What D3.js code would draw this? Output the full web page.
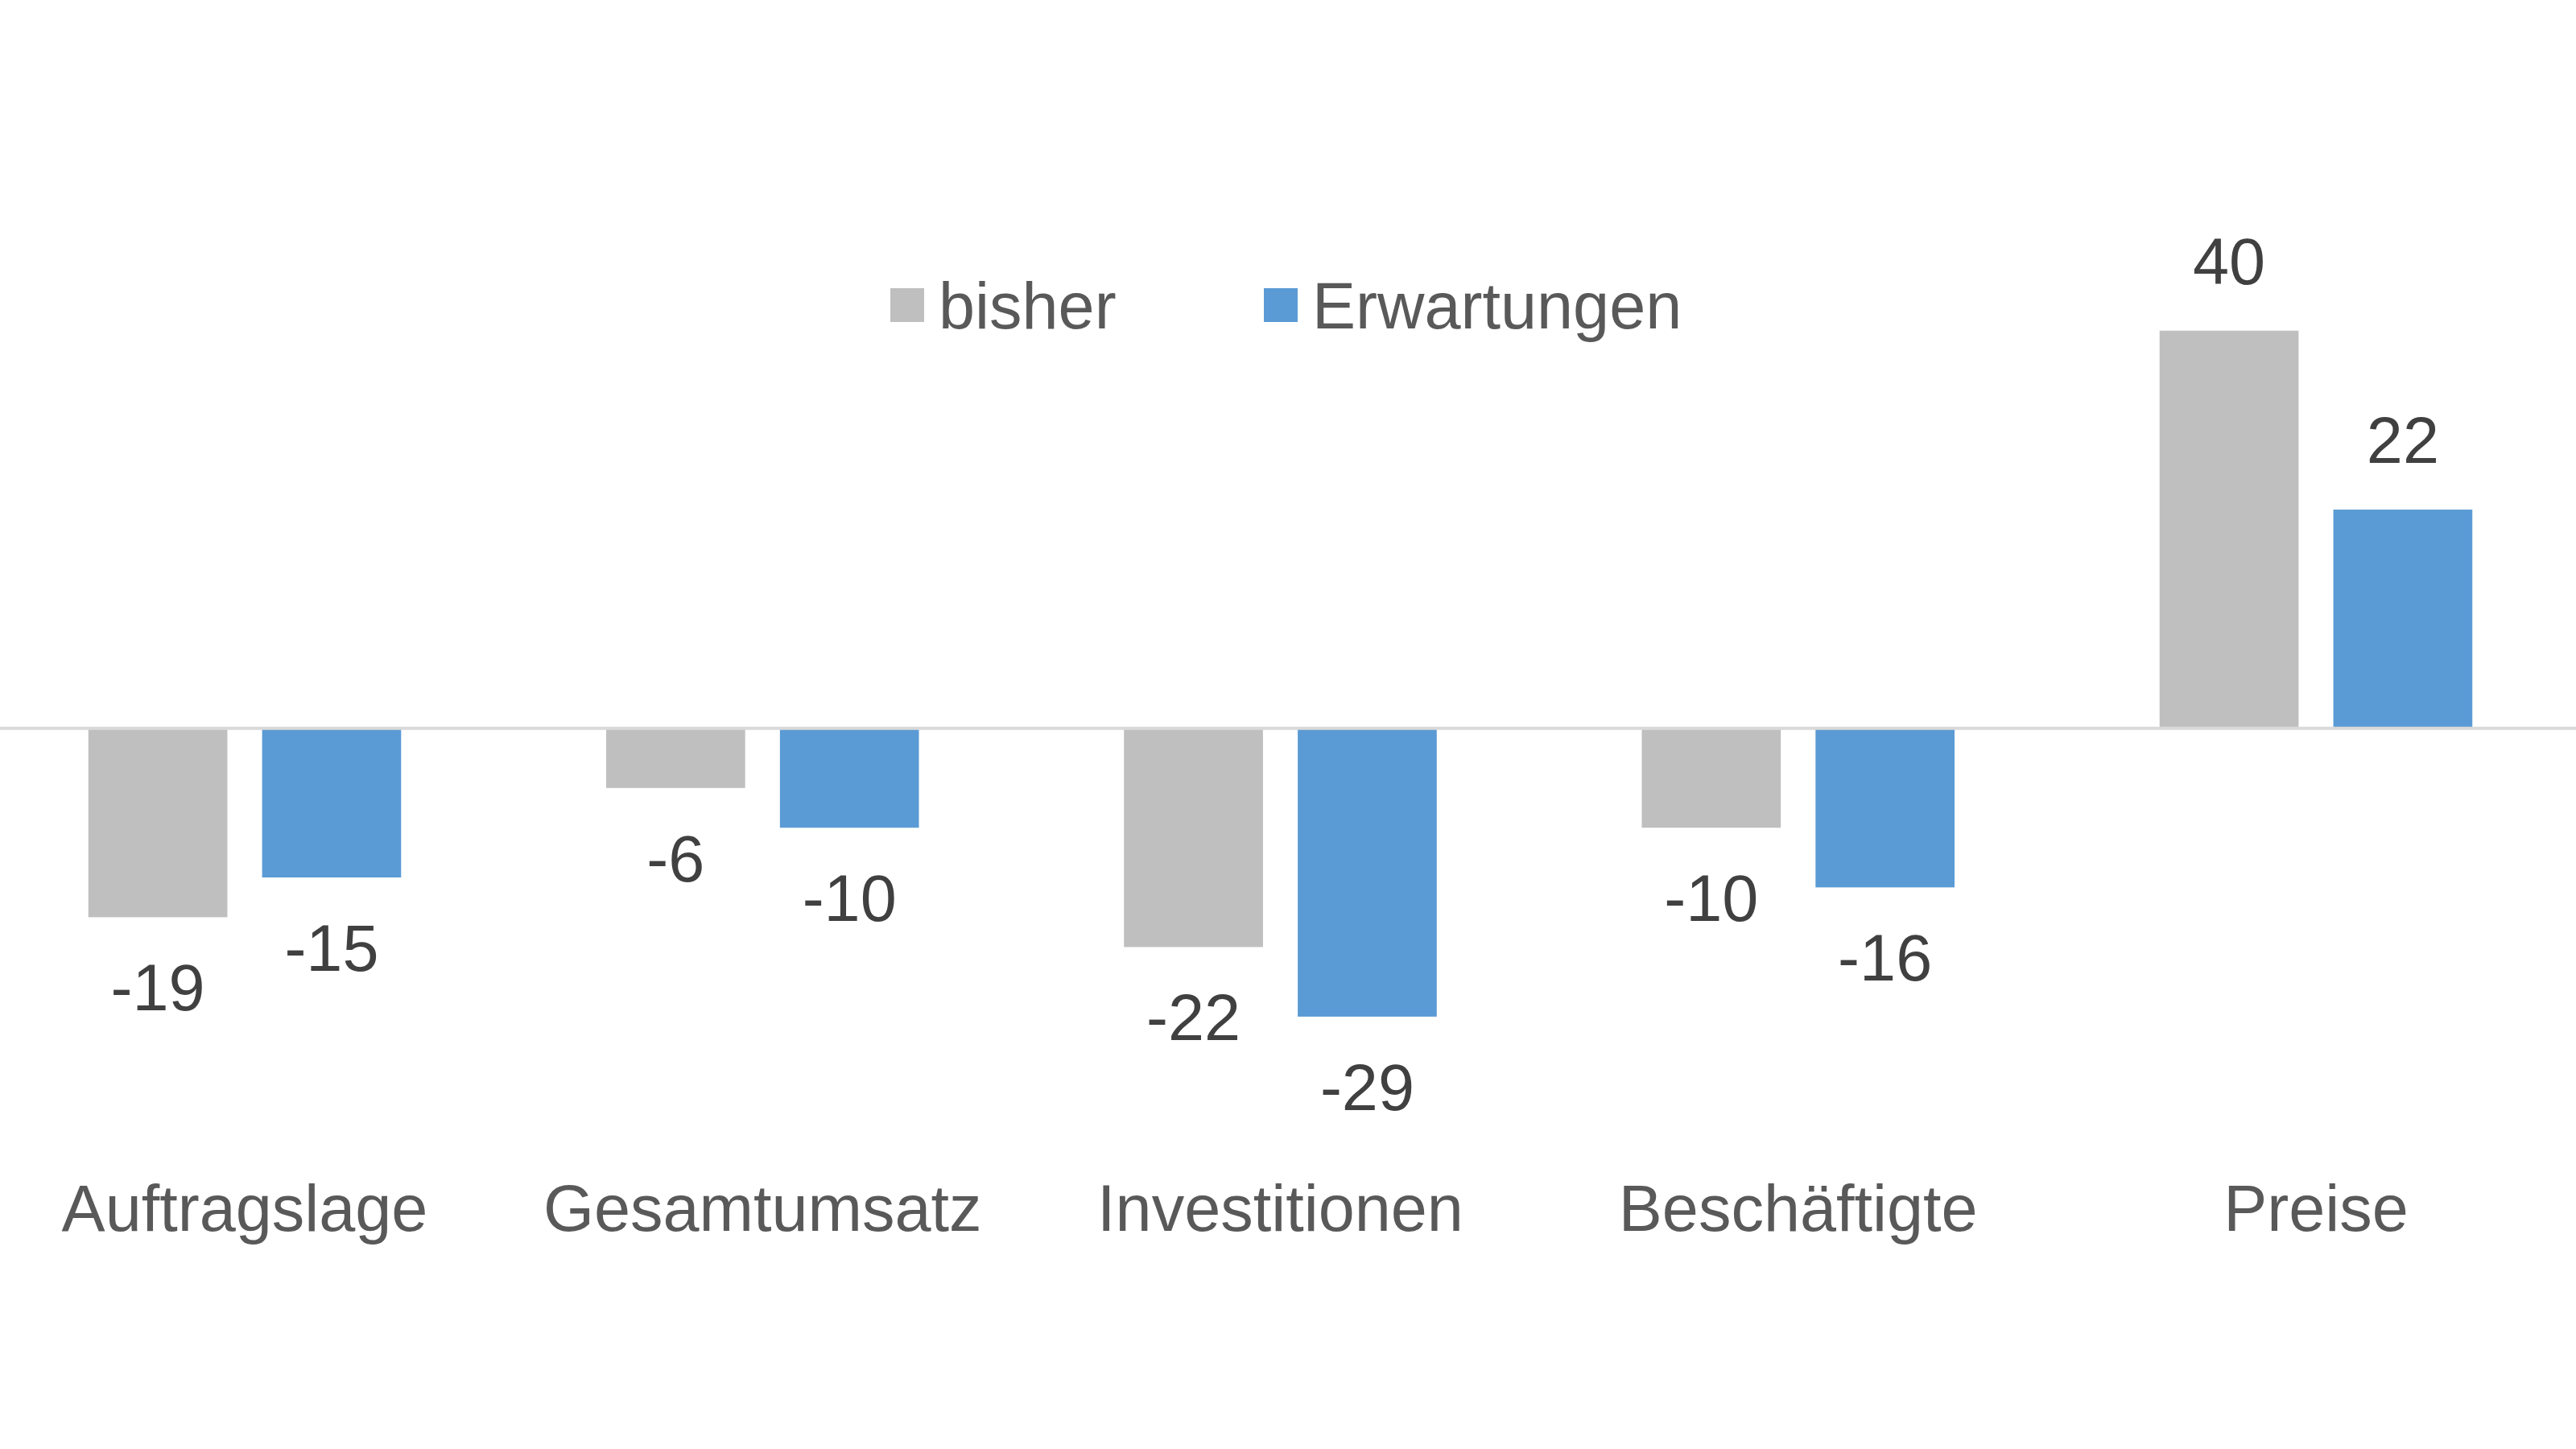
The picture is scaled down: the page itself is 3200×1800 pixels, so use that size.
<!DOCTYPE html>
<html>
<head>
<meta charset="utf-8">
<script src="https://cdn.jsdelivr.net/npm/d3@7"></script>
<style>
    html, body { margin: 0; padding: 0; background: #fff; }
    #chart { width: 3200px; height: 1800px; }
    text { font-family: "Liberation Sans", Arial, sans-serif; }
</style>
</head>
<body>
<div id="chart"></div>
<script>
// Data
const categories = ["Auftragslage", "Gesamtumsatz", "Investitionen", "Beschäftigte", "Preise"];
const seriesNames = ["bisher", "Erwartungen"];
const bisher = [-19, -6, -22, -10, 40];
const erwartungen = [-15, -10, -29, -16, 22];
const seriesColors = ["#bfbfbf", "#5b9bd5"];

document.addEventListener('DOMContentLoaded', function() {
    const width = 3200;
    const height = 1800;
    const fontSize = "81px";

    const svg = d3.select("#chart").append("svg")
        .attr("width", width)
        .attr("height", height);

    // rows per category
    const rows = categories.map((c, i) => ({
        category: c,
        values: [
            { series: seriesNames[0], value: bisher[i] },
            { series: seriesNames[1], value: erwartungen[i] }
        ]
    }));

    // scales
    const x0 = d3.scaleBand()
        .domain(categories)
        .range([-17.6, 3198.6])
        .paddingInner(0)
        .paddingOuter(0);

    const x1 = d3.scaleBand()
        .domain(seriesNames)
        .range([0, x0.bandwidth()])
        .paddingInner(0.2)
        .paddingOuter(0.59);

    const y = d3.scaleLinear()
        .domain([-35, 45])
        .range([1337, 349]);

    const color = d3.scaleOrdinal()
        .domain(seriesNames)
        .range(seriesColors);

    // bars
    const group = svg.append("g")
        .selectAll("g")
        .data(rows)
        .enter().append("g")
        .attr("transform", d => `translate(${x0(d.category)},0)`);

    group.selectAll("rect")
        .data(d => d.values)
        .enter().append("rect")
        .attr("x", d => x1(d.series))
        .attr("width", x1.bandwidth())
        .attr("y", d => y(Math.max(0, d.value)))
        .attr("height", d => Math.abs(y(d.value) - y(0)))
        .attr("fill", d => color(d.series));

    // zero line
    svg.append("line")
        .attr("x1", 0)
        .attr("x2", width)
        .attr("y1", y(0))
        .attr("y2", y(0))
        .attr("stroke", "#d9d9d9")
        .attr("stroke-width", 4);

    // value labels
    group.selectAll("text.value")
        .data(d => d.values)
        .enter().append("text")
        .attr("class", "value")
        .attr("x", d => x1(d.series) + x1.bandwidth() / 2)
        .attr("y", d => d.value < 0 ? y(d.value) + 116 : y(d.value) - 58)
        .attr("text-anchor", "middle")
        .style("font-size", fontSize)
        .style("fill", "#404040")
        .text(d => d.value);

    // category labels
    svg.append("g")
        .selectAll("text")
        .data(categories)
        .enter().append("text")
        .attr("x", d => x0(d) + x0.bandwidth() / 2)
        .attr("y", 1529)
        .attr("text-anchor", "middle")
        .style("font-size", fontSize)
        .style("fill", "#595959")
        .text(d => d);

    // legend
    const legendX = [1106, 1570];
    const legend = svg.append("g")
        .selectAll("g")
        .data(seriesNames)
        .enter().append("g")
        .attr("transform", (d, i) => `translate(${legendX[i]},358)`);

    legend.append("rect")
        .attr("width", 42)
        .attr("height", 42)
        .attr("fill", d => color(d));

    legend.append("text")
        .attr("x", 60)
        .attr("y", 50)
        .style("font-size", fontSize)
        .style("fill", "#595959")
        .text(d => d);
});
</script>
</body>
</html>
